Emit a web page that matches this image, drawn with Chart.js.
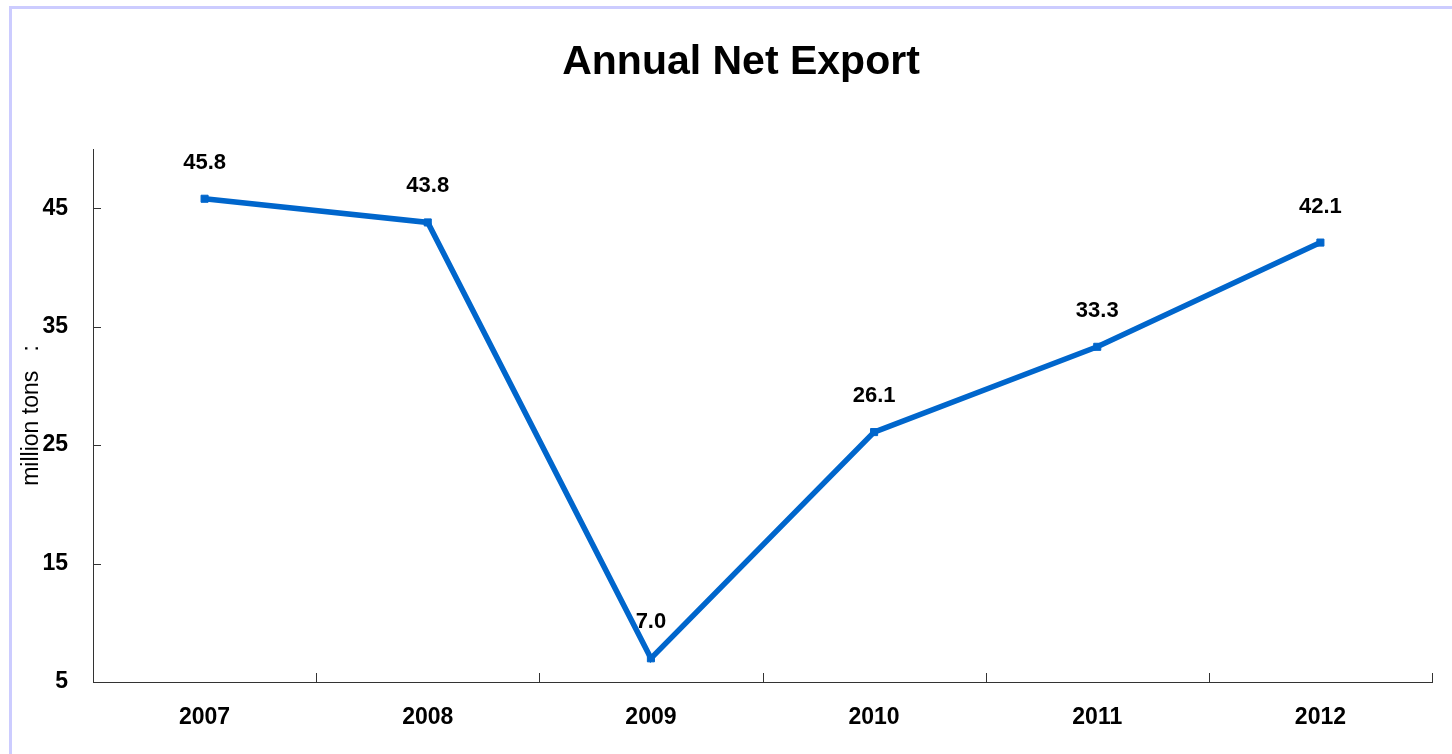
<!DOCTYPE html>
<html>
<head>
<meta charset="utf-8">
<script src="https://cdn.jsdelivr.net/npm/chart.js@4"></script>
<style>
  html, body { margin: 0; padding: 0; background: #fff; overflow: hidden; }
  #wrap { position: relative; width: 1452px; height: 754px; }
  #frame { position: absolute; left: 9px; top: 6px; width: 1500px; height: 800px;
           border-left: 3px solid #ccccff; border-top: 3px solid #ccccff; pointer-events: none; }
  canvas { position: absolute; left: 0; top: 0; }
</style>
</head>
<body>
<div id="wrap">
  <canvas id="c" width="1452" height="754"></canvas>
  <div id="frame"></div>
</div>
<script>
const years = ['2007', '2008', '2009', '2010', '2011', '2012'];
const netExport = [45.8, 43.8, 7.0, 26.1, 33.3, 42.1];
const yTickValues = [5, 15, 25, 35, 45];
const chartTitle = 'Annual Net Export';
const yAxisTitle = 'million tons   :';

const FONT = 'Arial, "Liberation Sans", Helvetica, sans-serif';

const inwardTicks = {
  id: 'inwardTicks',
  afterLayout(chart) {
    const t = chart.titleBlock;
    if (t) { t.left += 25; t.right += 25; }
  },
  afterDraw(chart) {
    const ctx = chart.ctx;
    const x = chart.scales.x, y = chart.scales.y;
    const a = chart.chartArea;
    ctx.save();
    ctx.strokeStyle = '#333';
    ctx.lineWidth = 1;
    ctx.beginPath();
    y.ticks.forEach(tk => {
      const py = Math.round(y.getPixelForValue(tk.value)) + 0.5;
      ctx.moveTo(a.left, py);
      ctx.lineTo(a.left + 8, py);
    });
    for (let i = 0; i <= years.length; i++) {
      const px = Math.round(x.getPixelForValue(i - 0.5)) + 0.5;
      ctx.moveTo(px, a.bottom);
      ctx.lineTo(px, a.bottom - 9);
    }
    ctx.stroke();
    // data labels
    const meta = chart.getDatasetMeta(0);
    ctx.fillStyle = '#000';
    ctx.font = 'bold 22px ' + FONT;
    ctx.textAlign = 'center';
    ctx.textBaseline = 'middle';
    meta.data.forEach((pt, i) => {
      ctx.fillText(netExport[i].toFixed(1), pt.x, pt.y - 36);
    });
    ctx.restore();
  }
};

new Chart(document.getElementById('c'), {
  type: 'line',
  data: {
    labels: years,
    datasets: [{
      data: netExport,
      borderColor: '#0066CC',
      backgroundColor: '#0066CC',
      borderWidth: 5.5,
      pointStyle: 'rect',
      pointRadius: 5,
      pointBorderWidth: 1,
      pointBorderColor: '#0066CC',
      pointBackgroundColor: '#0066CC',
      tension: 0,
      fill: false
    }]
  },
  options: {
    responsive: false,
    animation: false,
    events: [],
    layout: { padding: { left: 0, right: 20, top: 0, bottom: 0 } },
    plugins: {
      legend: { display: false },
      tooltip: { enabled: false },
      title: {
        display: true,
        text: chartTitle,
        color: '#000',
        font: { family: FONT, size: 41, weight: 'bold', lineHeight: 1.2 },
        padding: { top: 38, bottom: 61.8 }
      }
    },
    scales: {
      x: {
        offset: true,
        grid: { display: true, drawOnChartArea: false, drawTicks: false, offset: true },
        border: { display: true, color: '#333', width: 1 },
        ticks: { color: '#000', font: { family: FONT, size: 23, weight: 'bold' }, padding: 22, maxRotation: 0 },
        afterFit: s => { s.height = 72; }
      },
      y: {
        min: 5,
        max: 50,
        grid: { display: true, drawOnChartArea: false, drawTicks: false },
        border: { display: true, color: '#333', width: 1 },
        afterBuildTicks: s => { s.ticks = yTickValues.map(v => ({ value: v })); },
        ticks: { color: '#000', font: { family: FONT, size: 23, weight: 'bold' }, padding: 25 },
        title: {
          display: true,
          text: yAxisTitle,
          color: '#000',
          font: { family: FONT, size: 23, weight: 'normal', lineHeight: 1.2 },
          padding: { top: 18, bottom: 0 }
        },
        afterFit: s => { s.width = 93; }
      }
    }
  },
  plugins: [inwardTicks]
});
</script>
</body>
</html>
